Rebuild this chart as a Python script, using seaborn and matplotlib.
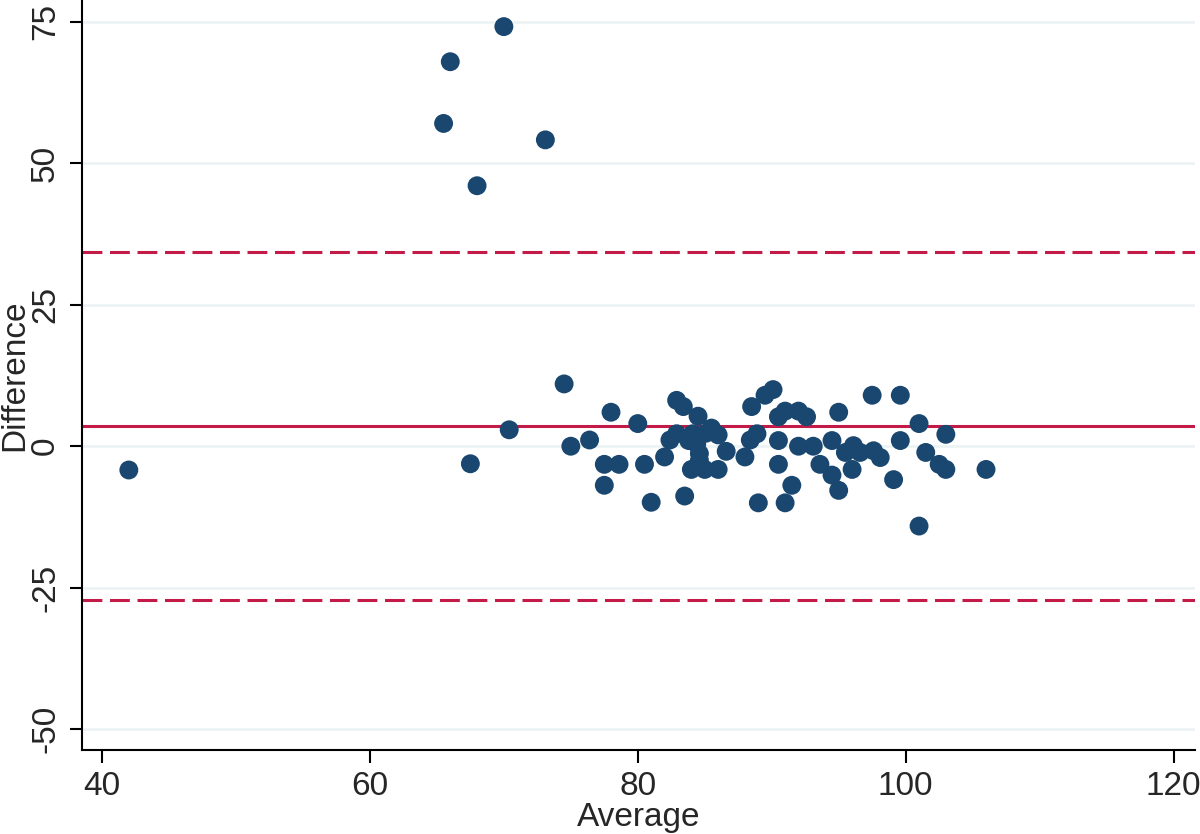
import numpy as np
import pandas as pd
import matplotlib
matplotlib.use("Agg")
import matplotlib.pyplot as plt
import seaborn as sns

# =========================
# Data
# =========================
average = [
    70.0, 66.0, 65.5, 73.1, 68.0,
    42.0, 67.5, 70.4,
    74.5, 75.0, 76.4, 78.0, 77.5, 78.6, 77.5, 80.0, 80.5, 81.0, 82.0,
    82.9, 83.4, 84.5, 82.9, 82.4, 84.1, 85.5, 86.0, 85.1, 84.4, 83.8,
    84.6, 86.6, 84.6, 84.0, 85.0, 86.0, 83.5,
    88.0, 88.5, 88.4, 88.9, 89.0, 89.5, 90.1,
    90.5, 91.0, 92.0, 92.6, 95.0, 97.5,
    90.5, 92.0, 93.1, 94.5, 90.5, 93.6, 94.5, 96.0, 91.5, 91.0, 95.0,
    95.5, 96.1, 96.6, 97.6, 98.1,
    99.1, 99.6, 99.6, 101.0, 101.0, 101.5, 102.5, 103.0, 103.0, 106.0,
]
difference = [
    74.1, 67.9, 57.0, 54.1, 46.0,
    -4.2, -3.1, 2.9,
    11.0, 0.0, 1.1, 6.0, -3.2, -3.2, -6.9, 4.0, -3.2, -9.9, -1.9,
    8.1, 7.0, 5.3, 2.2, 1.1, 2.2, 3.2, 2.0, 2.3, 0.4, 1.0,
    -1.3, -0.9, -2.5, -4.1, -4.1, -4.1, -8.8,
    -1.9, 7.0, 1.1, 2.2, -10.0, 9.0, 10.0,
    5.2, 6.2, 6.2, 5.2, 6.0, 9.0,
    1.0, 0.0, 0.0, 1.0, -3.2, -3.2, -5.1, -4.1, -6.9, -10.0, -7.8,
    -1.1, 0.1, -1.1, -0.8, -2.0,
    -5.9, 9.0, 1.0, 4.0, -14.1, -1.1, -3.2, -4.1, 2.1, -4.1,
]
mean_diff = 3.65
upper_loa = 34.3
lower_loa = -27.1

y_ticks = [-50, -25, 0, 25, 50, 75]
x_ticks = [40, 60, 80, 100, 120]

df = pd.DataFrame({"Average": average, "Difference": difference})

# =========================
# Style
# =========================
sns.set_style("white")
plt.rcParams["font.family"] = ["Liberation Sans", "DejaVu Sans"]
plt.rcParams["axes.unicode_minus"] = False

navy = "#1a476f"
red = "#c41a48"
grid_col = "#eaf2f3"

fig = plt.figure(figsize=(12, 8.34), dpi=100)
ax = fig.add_axes([0.0683, 0.1007, 0.9275, 0.8993])

# horizontal grid lines at y ticks
for yt in y_ticks:
    ax.axhline(yt, color=grid_col, lw=1.8, zorder=0)

ax.axhline(mean_diff, color=red, lw=2.2, zorder=1)
ax.axhline(upper_loa, color=red, lw=2.2, ls=(0, (6.5, 2.5)), zorder=1)
ax.axhline(lower_loa, color=red, lw=2.2, ls=(0, (6.5, 2.5)), zorder=1)

sns.scatterplot(data=df, x="Average", y="Difference", ax=ax,
                color=navy, s=185, edgecolor="none", zorder=3)

ax.set_xlim(38.5, 121.6)
ax.set_ylim(-53.65, 78.8)
ax.set_xticks(x_ticks)
ax.set_yticks(y_ticks)

ax.set_xlabel("Average", fontsize=24, labelpad=0)
ax.set_ylabel("Difference", fontsize=24, labelpad=0)
ax.tick_params(axis="both", labelsize=24, length=9, width=1.5,
               direction="out", color="black", pad=6,
               bottom=True, left=True)
for lab in ax.get_yticklabels():
    lab.set_rotation(90)
    lab.set_va("center")

for side in ["top", "right"]:
    ax.spines[side].set_visible(False)
for side in ["left", "bottom"]:
    ax.spines[side].set_color("black")
    ax.spines[side].set_linewidth(1.5)

fig.savefig("out.png", dpi=100)
